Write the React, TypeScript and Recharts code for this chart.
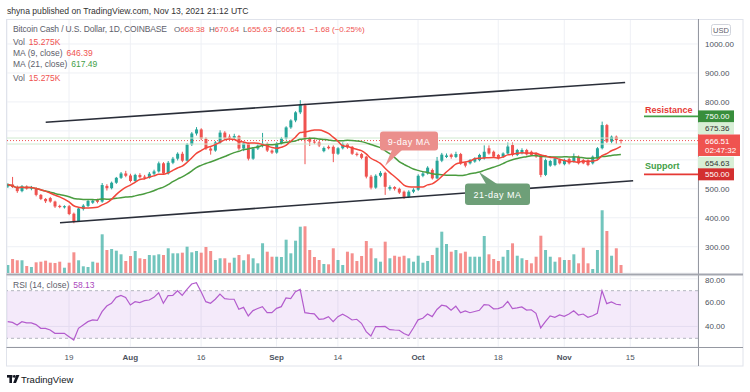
import { ComposedChart, Bar, Line, XAxis, YAxis, CartesianGrid, ReferenceLine, ReferenceArea, Cell } from 'recharts';

// Daily BCH/USD candles, Jul 6 – Nov 13 2021 (index 0 = Jul 6)
const OPEN = [508, 515, 506, 492, 508, 501, 502, 479, 465, 468, 456, 441, 436, 440, 414, 389, 430, 441, 452, 461,
  456, 510, 502, 521, 538, 553, 546, 527, 548, 542, 538, 552, 560, 588, 553, 590, 604, 621, 597, 653,
  691, 705, 673, 639, 632, 660, 694, 680, 676, 682, 639, 657, 604, 639, 649, 656, 632, 625, 656, 674,
  712, 736, 764, 788, 673, 663, 660, 630, 645, 645, 621, 640, 655, 645, 621, 620, 611, 542, 504, 545,
  555, 500, 506, 500, 490, 472, 490, 497, 545, 553, 565, 536, 597, 610, 618, 610, 620, 590, 588, 594,
  599, 605, 640, 628, 617, 611, 622, 651, 617, 623, 634, 628, 622, 617, 548, 580, 582, 600, 585, 603,
  594, 611, 599, 599, 588, 605, 640, 720, 663, 680, 668.38];
const HIGH = [519, 541, 511, 513, 512, 510, 505, 482, 468, 472, 459, 445, 443, 444, 418, 436, 447, 462, 463, 466,
  520, 516, 525, 541, 558, 562, 552, 552, 554, 548, 558, 566, 594, 592, 596, 610, 626, 628, 658, 696,
  713, 709, 678, 644, 665, 702, 699, 688, 690, 686, 662, 660, 644, 654, 693, 660, 636, 661, 679, 716,
  740, 768, 806, 794, 679, 671, 665, 646, 650, 650, 644, 660, 658, 648, 626, 624, 614, 548, 550, 561,
  559, 512, 509, 504, 494, 495, 502, 550, 560, 578, 570, 610, 624, 622, 622, 628, 624, 594, 603, 609,
  621, 650, 650, 632, 620, 626, 660, 660, 638, 640, 638, 632, 626, 620, 604, 600, 609, 604, 604, 607,
  622, 615, 603, 602, 615, 644, 732, 724, 684, 684, 670.64];
const LOW = [503, 503, 486, 488, 497, 495, 474, 461, 451, 452, 434, 433, 432, 409, 381, 386, 425, 437, 448, 450,
  452, 494, 498, 517, 534, 540, 522, 522, 536, 532, 535, 546, 556, 548, 549, 585, 598, 592, 594, 648,
  684, 668, 634, 618, 628, 655, 668, 670, 672, 634, 630, 598, 600, 634, 643, 627, 620, 621, 652, 670,
  707, 730, 758, 585, 648, 654, 644, 626, 636, 592, 617, 636, 638, 617, 612, 602, 536, 498, 500, 540,
  479, 494, 494, 482, 465, 468, 485, 493, 540, 549, 532, 533, 592, 606, 604, 606, 583, 574, 584, 590,
  595, 601, 618, 607, 601, 607, 619, 612, 613, 619, 615, 613, 607, 540, 544, 576, 578, 584, 581, 584,
  590, 584, 585, 578, 584, 601, 636, 658, 657, 655, 655.63];
const CLOSE = [515, 506, 492, 508, 501, 506, 479, 465, 457, 456, 439, 437, 440, 413, 388, 432, 442, 458, 459, 455,
  513, 502, 521, 538, 553, 545, 527, 548, 540, 538, 552, 560, 588, 553, 590, 604, 621, 597, 653, 691,
  705, 673, 639, 632, 660, 694, 674, 676, 682, 639, 657, 604, 639, 649, 656, 632, 625, 656, 674, 712,
  736, 764, 792, 673, 663, 660, 650, 641, 640, 621, 640, 655, 643, 621, 617, 607, 542, 504, 545, 555,
  507, 506, 500, 487, 472, 490, 497, 545, 553, 573, 536, 597, 618, 615, 610, 620, 587, 580, 599, 605,
  617, 628, 622, 611, 605, 622, 646, 617, 634, 634, 619, 617, 611, 548, 599, 596, 605, 588, 600, 588,
  611, 588, 588, 582, 611, 640, 720, 663, 680, 668.38, 666.51];
// volume, thousands
const VOLUME = [15.3, 26.7, 24.3, 24.3, 13.4, 11.5, 20.4, 21.6, 23.5, 19.7, 19.1, 21.6, 10.1, 19.7, 39.5, 24.3, 12.8, 11.5, 21.6, 19.7,
  73.9, 43.9, 45.8, 42.6, 35.7, 22.9, 32.5, 42, 28.1, 26.7, 34.4, 33.8, 35.7, 34.4, 47.2, 37.6, 37.6, 38.8, 50.2, 39.5,
  42, 38.8, 49.7, 42, 24.8, 28.1, 28.1, 19.7, 29.2, 34.4, 24.3, 35.7, 28.1, 18.5, 56.7, 40.7, 31.1, 31.1, 30.6, 63.6,
  37.6, 61.7, 88.4, 89.2, 43.9, 30.6, 24.8, 17.2, 16.6, 47.2, 24.8, 15.3, 40.7, 37.6, 22.9, 32.5, 61.1, 47.2, 28.1, 21.6,
  59.8, 28.1, 33, 31.1, 33, 28.1, 21.6, 33, 19.7, 22.9, 34.4, 48.3, 78.9, 55.4, 40.7, 43.9, 37.6, 40.7, 31.1, 31.1,
  31.1, 70.7, 35.7, 26.7, 22.9, 31.1, 43.9, 56.7, 33, 28.1, 24.8, 18.5, 31.1, 71.2, 43.9, 31.1, 21.6, 30, 24.8, 24.8,
  35.7, 18.5, 48.3, 18.5, 7.6, 43.9, 119.8, 80.2, 33, 47.2, 15.275];
const RSI = [44, 43.4, 41.2, 44, 43, 43, 41.5, 38.4, 38.4, 37, 34.2, 34.2, 34.2, 31.4, 28.6, 38.4, 41.2, 44, 45.4, 45,
  52.4, 57.1, 59.4, 64.4, 66.1, 64.4, 58, 60.8, 60, 61.6, 62.2, 64.4, 68.3, 59.4, 65.8, 66.1, 70, 66.1, 71.1, 75.6,
  76.7, 69.2, 60.8, 59.4, 62.8, 67.2, 63.3, 62.8, 62.8, 54.4, 56, 48.8, 53.3, 55, 56.6, 51.6, 51.6, 55.2, 56.6, 63.9,
  63.3, 69.2, 71.1, 51.6, 51, 50.5, 46, 46.3, 48.2, 44, 48.2, 50.2, 48.2, 45.4, 46, 42.6, 35.6, 32, 39.9, 39.9,
  40, 37.3, 37, 36.8, 34, 32.4, 38.7, 45.5, 46.9, 50.4, 48.2, 54.2, 57.8, 57, 53.7, 57, 51.5, 53, 51.5, 52.5,
  53.5, 58.3, 58, 54.8, 55, 56.5, 61, 55, 55.5, 56.4, 53.7, 54, 51, 38.7, 44, 48.8, 47.7, 49.6, 48.5, 50.4,
  53.1, 49.6, 50.4, 47.7, 49, 51, 70, 59.1, 60.5, 58.6, 58.13];

const TICK_DAYS = [13, 26, 41, 57, 70, 87, 104, 118, 132];
const TICK_LABELS = ['19', 'Aug', '16', 'Sep', '14', 'Oct', '18', 'Nov', '15'];
const GRID_PRICES = [300, 400, 500, 600, 700, 800, 900, 1000];
const PRICE_LABELS = [300, 400, 500, 800, 900, 1000];
const RSI_TICKS = [40, 60, 80];
const UPPER_CHANNEL = [{ x: 8.06, y: 729.6 }, { x: 130.9, y: 867 }];
const LOWER_CHANNEL = [{ x: 11.09, y: 383 }, { x: 132.6, y: 528 }];
const RESISTANCE = 750;
const SUPPORT = 550;
const DAY_HIGH = 675.36;
const DAY_LOW = 654.63;
const LAST = 666.51;

const X_DOMAIN: [number, number] = [-0.15, 146.35];
const PRICE_DOMAIN: [number, number] = [209.3, 1086.3];
const RSI_DOMAIN: [number, number] = [22.7, 82.35];
const VOL_MAX = 485;

const UP = '#26a69a';
const DOWN = '#ef5350';
const GRID = '#eef0f5';
const TEXT = '#4c525e';
const FONT = "'Liberation Sans', Arial, sans-serif";

const MAIN_TOP = 19;
const MAIN_H = 254;

const movingAverage = (values: number[], n: number) =>
  values.map((_, i) => {
    const w = values.slice(Math.max(0, i - n + 1), i + 1);
    return w.reduce((a, b) => a + b, 0) / w.length;
  });

const MA9 = movingAverage(CLOSE, 9);
const MA21 = movingAverage(CLOSE, 21);

const rows = CLOSE.map((close, i) => ({
  day: i,
  open: OPEN[i],
  high: HIGH[i],
  low: LOW[i],
  close,
  range: [LOW[i], HIGH[i]],
  volume: VOLUME[i],
  ma9: MA9[i],
  ma21: MA21[i],
  rsi: RSI[i],
}));

// for the price-scale tags in the overlay
const priceY = (p: number) =>
  MAIN_TOP + ((PRICE_DOMAIN[1] - p) / (PRICE_DOMAIN[1] - PRICE_DOMAIN[0])) * MAIN_H;

const Candle = (props: any) => {
  const { x, y, width, height, payload } = props;
  if (x == null || !payload) return null;
  const { open, close, high, low } = payload;
  const color = close >= open ? UP : DOWN;
  const top = Math.min(y, y + height);
  const h = Math.abs(height);
  const k = h / (high - low);
  const yO = top + (high - open) * k;
  const yC = top + (high - close) * k;
  const cx = x + width / 2;
  return (
    <g>
      <line x1={cx} x2={cx} y1={top} y2={top + h} stroke={color} strokeWidth={1} />
      <rect x={x} y={Math.min(yO, yC)} width={width} height={Math.max(1, Math.abs(yO - yC))} fill={color} />
    </g>
  );
};

const DateTick = ({ x, y, payload }: any) => {
  const label = TICK_LABELS[TICK_DAYS.indexOf(payload.value)];
  const bold = isNaN(Number(label));
  return (
    <text x={x} y={y + 11} textAnchor="middle" fontSize={8} fontWeight={bold ? 700 : 400} fill={TEXT}>
      {label}
    </text>
  );
};

const AxisTag = ({ y, text, bg, color, w = 36 }: any) => (
  <g>
    <rect x={698} y={y - 6} width={w} height={12} fill={bg} />
    <text x={705} y={y + 3} fontSize={8} fill={color}>{text}</text>
  </g>
);

export default function App() {
  const GRAY = '#5d606b';
  const RED = '#ef5350';
  return (
    <div style={{ position: 'fixed', left: 0, top: 0, width: 750, height: 392, background: '#fff', fontFamily: FONT }}>
      {/* volume pane + grid */}
      <div style={{ position: 'absolute', left: 7, top: MAIN_TOP }}>
        <ComposedChart width={736} height={MAIN_H} data={rows} margin={{ top: 0, right: 45, bottom: 0, left: 0 }}>
          <CartesianGrid stroke={GRID} yAxisId="price" />
          <XAxis type="number" dataKey="day" domain={X_DOMAIN} ticks={TICK_DAYS} hide allowDataOverflow />
          <YAxis yAxisId="price" domain={PRICE_DOMAIN} ticks={GRID_PRICES} hide allowDataOverflow />
          <YAxis yAxisId="vol" domain={[0, VOL_MAX]} hide />
          <Bar yAxisId="vol" dataKey="volume" barSize={3} isAnimationActive={false}>
            {rows.map((r) => (
              <Cell key={r.day} fill={r.close >= r.open ? UP : DOWN} fillOpacity={0.65} />
            ))}
          </Bar>
        </ComposedChart>
      </div>

      {/* price pane */}
      <div style={{ position: 'absolute', left: 7, top: MAIN_TOP }}>
        <ComposedChart width={736} height={MAIN_H} data={rows} margin={{ top: 0, right: 0, bottom: 0, left: 0 }}>
          <XAxis type="number" dataKey="day" domain={X_DOMAIN} hide allowDataOverflow />
          <YAxis
            yAxisId="price"
            orientation="right"
            width={45}
            domain={PRICE_DOMAIN}
            ticks={PRICE_LABELS}
            allowDataOverflow
            axisLine={false}
            tickLine={false}
            tickSize={0}
            tickMargin={7}
            tick={{ fontSize: 8, fill: TEXT, textAnchor: 'start' }}
            tickFormatter={(v: number) => v.toFixed(2)}
          />
          <ReferenceLine yAxisId="price" y={DAY_HIGH} stroke="#cfe9cf" />
          <ReferenceLine yAxisId="price" y={DAY_LOW} stroke="#cfe9cf" />
          <ReferenceLine yAxisId="price" y={LAST} stroke={RED} strokeDasharray="1 2" />
          <ReferenceLine yAxisId="price" segment={UPPER_CHANNEL} stroke="#2a2e39" strokeWidth={1.6} />
          <ReferenceLine yAxisId="price" segment={LOWER_CHANNEL} stroke="#2a2e39" strokeWidth={1.6} />
          <ReferenceLine yAxisId="price" segment={[{ x: 134.9, y: RESISTANCE }, { x: 146.35, y: RESISTANCE }]} stroke="#43a047" strokeWidth={1.6} />
          <ReferenceLine yAxisId="price" segment={[{ x: 134.9, y: SUPPORT }, { x: 146.35, y: SUPPORT }]} stroke="#e53935" strokeWidth={1.6} />
          <Line yAxisId="price" dataKey="ma21" type="monotone" stroke="#4a9c3f" strokeWidth={1.5} dot={false} isAnimationActive={false} />
          <Line yAxisId="price" dataKey="ma9" type="monotone" stroke="#f2463a" strokeWidth={1.5} dot={false} isAnimationActive={false} />
          <Bar yAxisId="price" dataKey="range" barSize={3} shape={(p: any) => <Candle {...p} />} isAnimationActive={false} />
        </ComposedChart>
      </div>

      {/* RSI pane + date axis */}
      <div style={{ position: 'absolute', left: 7, top: 276 }}>
        <ComposedChart width={736} height={90} data={rows} margin={{ top: 0, right: 0, bottom: 0, left: 0 }}>
          <ReferenceArea y1={30} y2={70} fill="#9b3fd6" fillOpacity={0.11} stroke="none" />
          <CartesianGrid stroke={GRID} />
          <XAxis
            type="number"
            dataKey="day"
            domain={X_DOMAIN}
            ticks={TICK_DAYS}
            interval={0}
            height={19}
            allowDataOverflow
            axisLine={false}
            tickLine={false}
            tickSize={0}
            tick={<DateTick />}
          />
          <YAxis
            orientation="right"
            width={45}
            domain={RSI_DOMAIN}
            ticks={RSI_TICKS}
            allowDataOverflow
            axisLine={false}
            tickLine={false}
            tickSize={0}
            tickMargin={7}
            tick={{ fontSize: 8, fill: TEXT, textAnchor: 'start' }}
            tickFormatter={(v: number) => v.toFixed(2)}
          />
          <ReferenceLine y={70} stroke="#b2b5be" strokeDasharray="3 3" />
          <ReferenceLine y={30} stroke="#b2b5be" strokeDasharray="3 3" />
          <Line dataKey="rsi" type="linear" stroke="#b35ccd" strokeWidth={1.2} dot={false} isAnimationActive={false} />
        </ComposedChart>
      </div>

      {/* frame, legends, tags and notes */}
      <svg width={750} height={392} style={{ position: 'absolute', left: 0, top: 0, pointerEvents: 'none' }} fontFamily={FONT}>
        <text x={7} y={14} fontSize={8.6} fill="#333">shyna published on TradingView.com, Nov 13, 2021 21:12 UTC</text>

        <rect x={6.5} y={19.5} width={736.5} height={346.5} fill="none" stroke="#e0e3eb" />
        <line x1={698.5} x2={698.5} y1={19} y2={366} stroke="#9598a1" />
        <line x1={6.5} x2={743} y1={274.5} y2={274.5} stroke="#a3a6af" strokeWidth={2} />
        <line x1={6.5} x2={743} y1={347.5} y2={347.5} stroke="#9598a1" />

        <text x={13} y={32} fontSize={8.5} fill={GRAY} textLength={154} lengthAdjust="spacing">Bitcoin Cash / U.S. Dollar, 1D, COINBASE</text>
        <text y={32} fontSize={8} fill={GRAY}>
          <tspan x={174}>O</tspan><tspan fill={RED}>668.38</tspan>
          <tspan x={209}>H</tspan><tspan fill={RED}>670.64</tspan>
          <tspan x={243}>L</tspan><tspan fill={RED}>655.63</tspan>
          <tspan x={275.5}>C</tspan><tspan fill={RED}>666.51</tspan>
          <tspan x={309.5} fill={RED}>−1.68 (−0.25%)</tspan>
        </text>
        <text x={13} y={45} fontSize={8.5} fill={GRAY}>Vol<tspan dx={4} fill={RED}>15.275K</tspan></text>
        <text x={13} y={56} fontSize={8.5} fill={GRAY}>MA (9, close)<tspan dx={4} fill={RED}>646.39</tspan></text>
        <text x={13} y={67} fontSize={8.5} fill={GRAY}>MA (21, close)<tspan dx={4} fill="#43a047">617.49</tspan></text>
        <text x={13} y={81} fontSize={8.5} fill={GRAY}>Vol<tspan dx={4} fill={RED}>15.275K</tspan></text>
        <text x={13} y={288} fontSize={8.5} fill={GRAY}>RSI (14, close)<tspan dx={4} fill="#ab47bc">58.13</tspan></text>

        <rect x={711.5} y={24.5} width={19} height={11} rx={2} fill="#fff" stroke="#d1d4dc" />
        <text x={721} y={32.5} fontSize={7.5} textAnchor="middle" fill={GRAY}>USD</text>

        <AxisTag y={priceY(RESISTANCE)} text="750.00" bg="#388e3c" color="#fff" />
        <AxisTag y={priceY(RESISTANCE) + 12} text="675.36" bg="#d8efd6" color="#333" />
        <rect x={698} y={134.5} width={42} height={21.5} fill={RED} />
        <text x={705} y={143.5} fontSize={8} fill="#fff">666.51</text>
        <text x={705} y={153} fontSize={8} fill="#fff">02:47:32</text>
        <AxisTag y={priceY(SUPPORT) - 11.6} text="654.63" bg="#d8efd6" color="#333" />
        <AxisTag y={priceY(SUPPORT)} text="550.00" bg="#d32f2f" color="#fff" />

        <text x={645} y={112.5} fontSize={9} fontWeight={700} fill="#e53935">Resistance</text>
        <text x={645} y={169} fontSize={9} fontWeight={700} fill="#43a047">Support</text>

        <polygon points="392,150 402,150 385,166" fill="#eb8f8c" />
        <rect x={380} y={131.5} width={58} height={19} rx={3} fill="#eb8f8c" />
        <text x={409} y={144.5} fontSize={9} textAnchor="middle" fill="#fff" letterSpacing={0.5}>9-day MA</text>

        <polygon points="486,184 497,184 479,172" fill="#6e9f78" />
        <rect x={465} y={183.5} width={65} height={21.5} rx={3} fill="#6e9f78" />
        <text x={497.5} y={197.5} fontSize={9} textAnchor="middle" fill="#fff" letterSpacing={0.5}>21-day MA</text>

        <rect x={7} y={375} width={5.5} height={2.6} fill="#131722" />
        <rect x={9.4} y={375} width={2.6} height={8} fill="#131722" />
        <circle cx={14.3} cy={376.4} r={1.4} fill="#131722" />
        <polygon points="16.2,375 19.4,375 16,383 13.2,383" fill="#131722" />
        <text x={21} y={382.5} fontSize={9.5} fill="#131722">TradingView</text>
      </svg>
    </div>
  );
}
